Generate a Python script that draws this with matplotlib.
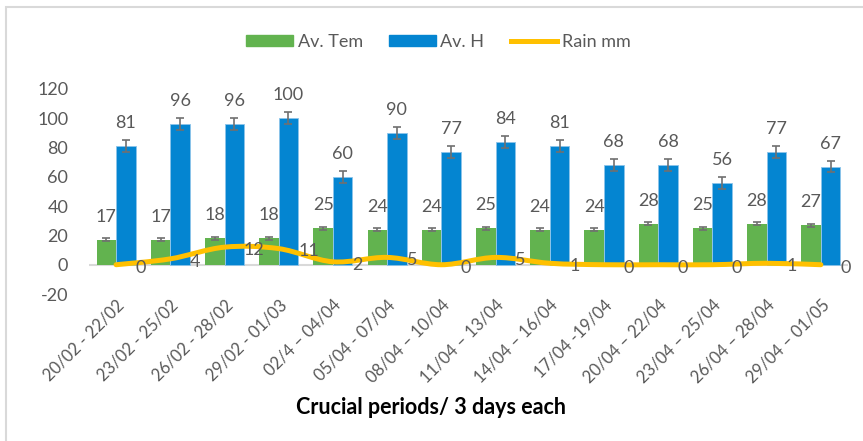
import matplotlib
matplotlib.use("Agg")
import matplotlib.pyplot as plt
from matplotlib.path import Path
from matplotlib.patches import PathPatch, Rectangle
from matplotlib.lines import Line2D
import numpy as np

plt.rcParams['font.family'] = ['Lato', 'DejaVu Sans']
plt.rcParams['axes.unicode_minus'] = False

periods = ["20/02 - 22/02", "23/02 - 25/02", "26/02 - 28/02", "29/02 - 01/03",
           "02/4 \u2013 04/04", "05/04 - 07/04", "08/04 \u2013 10/04", "11/04 \u2013 13/04",
           "14/04 \u2013 16/04", "17/04 -19/04", "20/04 \u2013 22/04", "23/04 \u2013 25/04",
           "26/04 \u2013 28/04", "29/04 \u2013 01/05"]
av_tem = [17, 17, 18, 18, 25, 24, 24, 25, 24, 24, 28, 25, 28, 27]
av_h = [81, 96, 96, 100, 60, 90, 77, 84, 81, 68, 68, 56, 77, 67]
rain = [0, 4, 12, 11, 2, 5, 0, 5, 1, 0, 0, 0, 1, 0]
tem_err = [1] * 14
h_err = [4] * 14

green = "#62B34F"
blue = "#0485D1"
yellow = "#FFC000"
gray = "#595959"

fig = plt.figure(figsize=(8.63, 4.41), dpi=100)
ax = fig.add_axes([0.1031, 0.3333, 0.8795, 0.4649])

x = np.arange(len(periods))
w = 0.36
ax.bar(x - w / 2, av_tem, w, color=green, yerr=tem_err, capsize=3,
       error_kw=dict(ecolor="#707070", elinewidth=1.2, capthick=1.2), zorder=2)
ax.bar(x + w / 2, av_h, w, color=blue, edgecolor="#8CC4EA", linewidth=0.6,
       yerr=h_err, capsize=3,
       error_kw=dict(ecolor="#707070", elinewidth=1.2, capthick=1.2), zorder=2)

for i in range(len(x)):
    ax.annotate(str(av_tem[i]), (x[i] - w / 2, av_tem[i]), xytext=(0, 16.5),
                textcoords="offset points", ha="center", va="center",
                fontsize=13, color=gray)
    ax.annotate(str(av_h[i]), (x[i] + w / 2, av_h[i]), xytext=(0, 16.5),
                textcoords="offset points", ha="center", va="center",
                fontsize=13, color=gray)

# smoothed rain line (Catmull-Rom style bezier like Excel)
pts = np.column_stack([x, rain]).astype(float)
verts = [tuple(pts[0])]
codes = [Path.MOVETO]
for i in range(len(pts) - 1):
    p0 = pts[i - 1] if i > 0 else pts[i]
    p1 = pts[i]
    p2 = pts[i + 1]
    p3 = pts[i + 2] if i + 2 < len(pts) else pts[i + 1]
    c1 = p1 + (p2 - p0) / 6
    c2 = p2 - (p3 - p1) / 6
    verts += [tuple(c1), tuple(c2), tuple(p2)]
    codes += [Path.CURVE4] * 3
ax.add_patch(PathPatch(Path(verts, codes), facecolor="none", edgecolor=yellow,
                       linewidth=3.6, capstyle="round", joinstyle="round", zorder=3))
for i in range(len(x)):
    ax.annotate(str(rain[i]), (x[i], rain[i]), xytext=(14, -2),
                textcoords="offset points", ha="left", va="center",
                fontsize=13, color=gray, zorder=4)

ax.set_xlim(-0.5, len(periods) - 0.5)
ax.set_ylim(-20, 120)
ax.set_yticks(range(-20, 121, 20))
ax.axhline(0, color="#D9D9D9", linewidth=1.5, zorder=1)
for s in ax.spines.values():
    s.set_visible(False)
ax.tick_params(axis="both", length=0, labelsize=13, labelcolor=gray)
ax.tick_params(axis="y", pad=15)
ax.set_xticks(x)
ax.set_xticklabels(periods, rotation=45, ha="right", va="top",
                   rotation_mode="anchor", fontsize=12)
ax.tick_params(axis="x", pad=2)

handles = [Rectangle((0, 0), 1, 1, color=green), Rectangle((0, 0), 1, 1, color=blue),
           Line2D([0], [0], color=yellow, linewidth=3.6)]
fig.legend(handles, ["Av. Tem", "Av. H", "Rain mm"], loc="center",
           bbox_to_anchor=(0.508, 0.905), ncol=3, frameon=False, fontsize=13,
           labelcolor=gray, handlelength=2.6, handleheight=0.6,
           handletextpad=0.25, columnspacing=1.45)

fig.text(0.499, 0.077, "Crucial periods/ 3 days each", ha="center", va="center",
         fontsize=15.5, fontweight="bold", color="black")

# chart border (only top and left edges fall inside the image)
fig.patches.append(Rectangle((6 / 863, -0.1), 1.2, 1.1 - 7 / 441,
                             transform=fig.transFigure, fill=False,
                             edgecolor="#D9D9D9", linewidth=1.5))

fig.savefig("out.png", dpi=100)
